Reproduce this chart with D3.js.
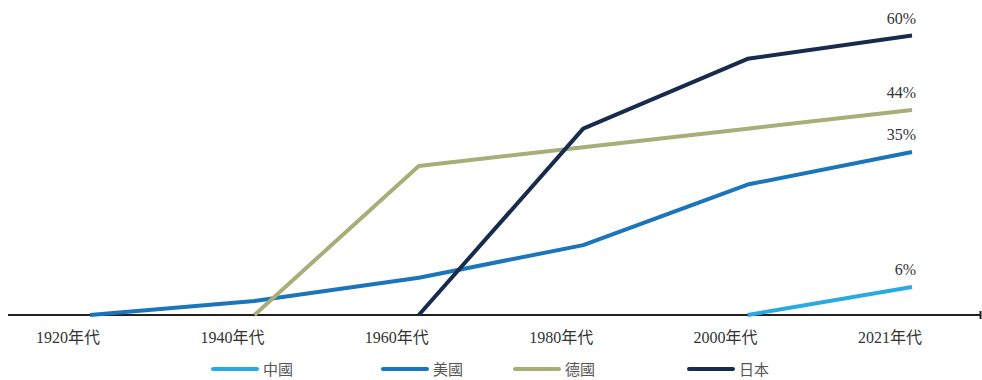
<!DOCTYPE html>
<html>
<head>
<meta charset="utf-8">
<script src="https://cdn.jsdelivr.net/npm/d3@7"></script>
<style>
  html, body { margin: 0; padding: 0; background: #fff; }
  svg { display: block; }
</style>
</head>
<body>
<svg id="chart" width="982" height="380"></svg>
<script>
// Decades on the horizontal axis
const categories = ["1920年代", "1940年代", "1960年代", "1980年代", "2000年代", "2021年代"];

// Share (%) by country; null where the series has not started yet
const china   = [null, null, null, null, 0, 6];
const usa     = [0, 3, 8, 15, 28, 35];
const germany = [null, 0, 32, 36, 40, 44];
const japan   = [null, null, 0, 40, 55, 60];

const seriesNames = ["中國", "美國", "德國", "日本"];
const seriesColors = ["#29abe2", "#1b75bb", "#a9ad78", "#172b4c"];
const seriesValues = [china, usa, germany, japan];

const svg = d3.select("#chart");
const W = 982, H = 380;

const x = d3.scalePoint().domain(categories).range([90, 912]);
const y = d3.scaleLinear().domain([0, 60]).range([315, 35.5]);

// Baseline axis
const axisY = y(0);
svg.append("line")
  .attr("x1", 8).attr("x2", 981)
  .attr("y1", axisY).attr("y2", axisY)
  .attr("stroke", "#231f20").attr("stroke-width", 1.8);
svg.append("line")
  .attr("x1", 980.5).attr("x2", 980.5)
  .attr("y1", axisY - 4).attr("y2", axisY + 4)
  .attr("stroke", "#231f20").attr("stroke-width", 2);

// Decade labels
svg.append("g").selectAll("text")
  .data(categories)
  .join("text")
  .attr("x", d => x(d) - 22)
  .attr("y", 343)
  .attr("text-anchor", "middle")
  .attr("font-family", "'Liberation Serif', 'Noto Sans CJK TC', serif")
  .attr("font-size", 16)
  .attr("fill", "#333")
  .text(d => d);

// Series lines
const line = d3.line()
  .defined(d => d.v !== null)
  .x(d => x(d.c))
  .y(d => y(d.v));

const order = [1, 2, 0, 3];
order.forEach(i => {
  const pts = categories.map((c, j) => ({ c, v: seriesValues[i][j] }));
  svg.append("path")
    .datum(pts)
    .attr("d", line)
    .attr("fill", "none")
    .attr("stroke", seriesColors[i])
    .attr("stroke-width", 4)
    .attr("stroke-linejoin", "round");
});

// End-of-line value labels
seriesValues.forEach((vals, i) => {
  const last = categories.length - 1;
  const v = vals[last];
  svg.append("text")
    .attr("x", x(categories[last]) + 4)
    .attr("y", y(v) - 12)
    .attr("text-anchor", "end")
    .attr("font-family", "'Liberation Serif', serif")
    .attr("font-size", 16)
    .attr("fill", "#333")
    .text(v + "%");
});

// Legend
const legendX = [213, 383, 515, 689];
const legend = svg.append("g");
seriesNames.forEach((name, i) => {
  const lx = legendX[i];
  legend.append("line")
    .attr("x1", lx).attr("x2", lx + 44)
    .attr("y1", 369).attr("y2", 369)
    .attr("stroke", seriesColors[i])
    .attr("stroke-width", 4)
    .attr("stroke-linecap", "round");
  legend.append("text")
    .attr("x", lx + 50)
    .attr("y", 374.5)
    .attr("font-family", "'Noto Sans CJK TC', sans-serif")
    .attr("font-size", 15)
    .attr("fill", "#555")
    .text(name);
});
</script>
</body>
</html>
